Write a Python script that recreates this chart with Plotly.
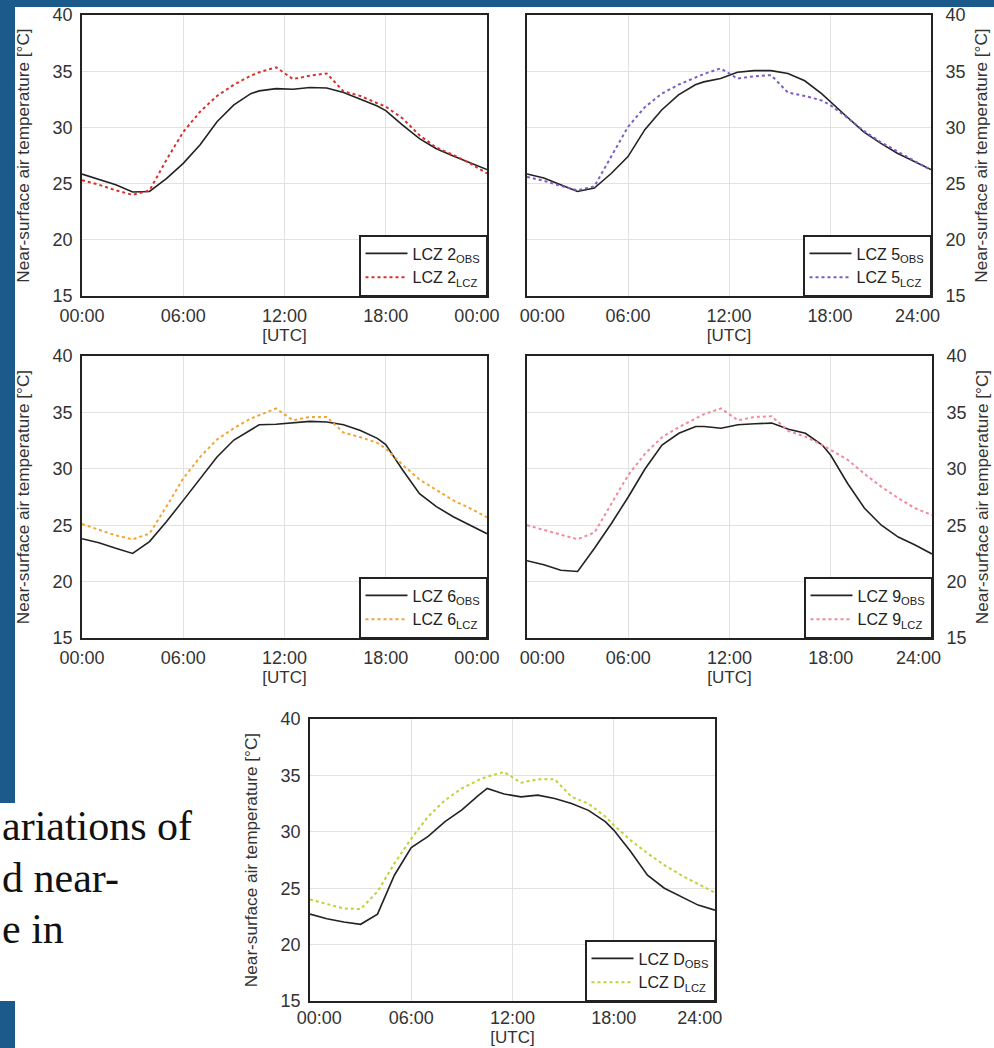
import plotly.graph_objects as go

# ---------------- data ----------------
hours = [0, 1, 2, 3, 4, 5, 6, 7, 8, 9, 10, 10.5, 11.5, 12.5, 13.5, 14.5,
         15.5, 16.5, 17.5, 18, 19, 20, 21, 22, 23, 24]

lcz2_obs = [25.85, 25.4, 24.9, 24.25, 24.3, 25.45, 26.8, 28.45, 30.5, 32.0, 33.0, 33.25, 33.45,
            33.4, 33.55, 33.5, 33.1, 32.5, 31.9, 31.5, 30.2, 29.0, 28.1, 27.45, 26.85, 26.25]
lcz2_lcz = [25.3, 24.9, 24.4, 24.0, 24.4, 27.1, 29.6, 31.4, 32.8, 33.8, 34.6, 34.9, 35.35,
            34.3, 34.6, 34.8, 33.2, 32.8, 32.15, 31.85, 30.8, 29.3, 28.2, 27.55, 26.8, 25.9]
lcz5_obs = [25.85, 25.5, 24.9, 24.3, 24.6, 25.9, 27.4, 29.8, 31.55, 32.9, 33.8, 34.05, 34.35,
            34.9, 35.05, 35.05, 34.8, 34.15, 33.0, 32.3, 30.95, 29.6, 28.6, 27.7, 26.95, 26.25]
lcz5_lcz = [25.6, 25.25, 24.8, 24.4, 24.75, 27.4, 30.05, 31.8, 33.0, 33.8, 34.45, 34.75, 35.25,
            34.35, 34.55, 34.65, 33.1, 32.8, 32.4, 32.0, 30.9, 29.7, 28.7, 27.85, 27.0, 26.2]
lcz6_obs = [23.8, 23.45, 22.95, 22.5, 23.55, 25.3, 27.2, 29.15, 31.05, 32.55, 33.5, 33.9, 33.95,
            34.1, 34.2, 34.15, 33.9, 33.4, 32.7, 32.15, 29.9, 27.8, 26.65, 25.75, 25.0, 24.25]
lcz6_lcz = [25.1, 24.6, 24.1, 23.75, 24.25, 26.65, 29.15, 31.05, 32.6, 33.6, 34.45, 34.75, 35.35,
            34.3, 34.6, 34.6, 33.2, 32.8, 32.3, 31.8, 30.35, 29.05, 28.1, 27.2, 26.5, 25.7]
lcz9_obs = [21.85, 21.5, 21.0, 20.9, 22.95, 25.15, 27.5, 30.0, 32.1, 33.15, 33.75, 33.75, 33.6,
            33.9, 34.0, 34.05, 33.5, 33.15, 32.1, 31.2, 28.7, 26.5, 25.0, 23.95, 23.25, 22.45]
lcz9_lcz = [25.0, 24.6, 24.2, 23.75, 24.35, 26.95, 29.45, 31.35, 32.8, 33.7, 34.45, 34.85, 35.35,
            34.3, 34.6, 34.65, 33.35, 32.85, 32.1, 31.65, 30.8, 29.55, 28.4, 27.4, 26.5, 25.9]
lczD_obs = [22.7, 22.3, 22.0, 21.8, 22.7, 26.15, 28.6, 29.6, 30.9, 31.95, 33.25, 33.85, 33.35,
            33.1, 33.25, 32.95, 32.5, 31.9, 30.9, 30.15, 28.25, 26.15, 25.0, 24.25, 23.5, 23.05]
lczD_lcz = [24.0, 23.6, 23.2, 23.15, 24.7, 27.2, 29.4, 31.35, 32.8, 33.85, 34.6, 34.9, 35.3,
            34.35, 34.65, 34.65, 33.1, 32.5, 31.35, 30.6, 29.25, 28.1, 27.05, 26.15, 25.4, 24.6]

zones = ["2", "5", "6", "9", "D"]
obs_series = [lcz2_obs, lcz5_obs, lcz6_obs, lcz9_obs, lczD_obs]
lcz_series = [lcz2_lcz, lcz5_lcz, lcz6_lcz, lcz9_lcz, lczD_lcz]

ytick_vals = [15, 20, 25, 30, 35, 40]
grid_hours = [6, 12, 18]
xlabels_wrap = ["00:00", "06:00", "12:00", "18:00", "00:00"]
xlabels_24 = ["00:00", "06:00", "12:00", "18:00", "24:00"]
ytitle = "Near-surface air temperature [°C]"
caption_lines = ["ariations of", "d near-", "e in"]

# ---------------- styling / layout ----------------
W, H = 994, 1048
FONT = "Arial, 'Liberation Sans', sans-serif"
TXT = "#333333"
FRAME = "#222222"
GRID = "#e2e2e2"
BLUE = "#1c5a8c"
lcz_colors = ["#d8312b", "#7e5cc4", "#f2a534", "#f28a9c", "#b8d636"]

# plot boxes in pixels: (x_left, x_right, y_top, y_bottom)
boxes = [(82, 487, 15, 296), (527, 931, 15, 296), (82, 487, 356, 638),
         (527, 932, 356, 638), (310, 715, 719, 1001)]
yside = ["left", "right", "left", "right", "left"]
xtext = [xlabels_wrap, xlabels_24, xlabels_wrap, xlabels_24, xlabels_24]
# label anchor positions (hours) - first/last labels sit slightly inside
xlabel_pos = [[0, 6, 12, 18, 23.4], [0.9, 6, 12, 18, 23.2], [0, 6, 12, 18, 23.4],
              [0.9, 6, 12, 18, 23.2], [0.55, 6, 12, 18, 23.1]]
xlabel_standoff = [3, 3, 3, 3, 0]
xtitle_standoff = [1, 1, 1, 1, 2]
# y-title sits a little above the plot centre in panels 1-4 (lead-in padding)
ytitle_pad = [6, 6, 6, 7, 0]
GRID_EPS = 1e-4


def px_x(v):
    return v / W


def px_y(v):
    return 1 - v / H


fig = go.Figure()
layout = dict(
    width=W, height=H,
    margin=dict(l=0, r=0, t=0, b=0),
    paper_bgcolor="white", plot_bgcolor="white",
    font=dict(family=FONT, size=17, color=TXT),
    showlegend=True,
)

for i in range(5):
    n = i + 1
    sfx = "" if n == 1 else str(n)
    xl, xr, yt, yb = boxes[i]
    xdom = [px_x(xl), px_x(xr)]
    ydom = [px_y(yb), px_y(yt)]
    leg = "legend" + sfx
    left = yside[i] == "left"

    fig.add_trace(go.Scatter(
        x=hours, y=obs_series[i], mode="lines",
        name=f"LCZ {zones[i]}<sub>OBS</sub>",
        line=dict(color=FRAME, width=1.6),
        xaxis="x" + sfx, yaxis="y" + sfx, legend=leg, hoverinfo="skip"))
    fig.add_trace(go.Scatter(
        x=hours, y=lcz_series[i], mode="lines",
        name=f"LCZ {zones[i]}<sub>LCZ</sub>",
        line=dict(color=lcz_colors[i], width=2, dash="dot"),
        xaxis="x" + sfx, yaxis="y" + sfx, legend=leg, hoverinfo="skip"))

    layout["xaxis" + sfx] = dict(
        domain=xdom, range=[0, 24], anchor="y" + sfx,
        tickmode="array", tickvals=xlabel_pos[i], ticktext=xtext[i],
        showgrid=False, zeroline=False,
        minor=dict(tickmode="array", tickvals=[g + GRID_EPS for g in grid_hours],
                   showgrid=True, gridcolor=GRID, gridwidth=1, ticks=""),
        showline=True, mirror=True, linecolor=FRAME, linewidth=1.7,
        ticks="", tickfont=dict(size=18, color=TXT),
        ticklabelstandoff=xlabel_standoff[i],
        title=dict(text="[UTC]", font=dict(size=17, color=TXT),
                   standoff=xtitle_standoff[i]),
        automargin=False, fixedrange=True)
    layout["yaxis" + sfx] = dict(
        domain=ydom, range=[15, 40], anchor="x" + sfx, side=yside[i],
        tickmode="array", tickvals=ytick_vals,
        showgrid=True, gridcolor=GRID, gridwidth=1, zeroline=False,
        showline=True, mirror=True, linecolor=FRAME, linewidth=1.7,
        ticks="", tickfont=dict(size=18, color=TXT),
        ticklabelstandoff=4 if left else 9,
        title=dict(text="\u00a0" * ytitle_pad[i] + ytitle,
                   font=dict(size=17.2, color=TXT),
                   standoff=18 if left else 10),
        automargin=False, fixedrange=True)
    layout[leg] = dict(
        x=px_x(xr), xanchor="right", y=px_y(yb), yanchor="bottom",
        xref="paper", yref="paper",
        bgcolor="white", bordercolor=FRAME, borderwidth=1.5,
        font=dict(size=16, color="#222222", family=FONT),
        tracegroupgap=0, itemwidth=42, traceorder="normal")

# slide background pieces (blue frame)
layout["shapes"] = [
    dict(type="rect", xref="paper", yref="paper", x0=0, x1=1, y0=px_y(7), y1=1,
         fillcolor=BLUE, line=dict(width=0), layer="below"),
    dict(type="rect", xref="paper", yref="paper", x0=0, x1=px_x(15), y0=px_y(803), y1=1,
         fillcolor=BLUE, line=dict(width=0), layer="below"),
    dict(type="rect", xref="paper", yref="paper", x0=0, x1=px_x(15), y0=0, y1=px_y(1001),
         fillcolor=BLUE, line=dict(width=0), layer="below"),
]

# slide caption text
caption_y = [826, 878, 929]
layout["annotations"] = [
    dict(text=t, xref="paper", yref="paper", x=px_x(0), y=px_y(yc),
         xanchor="left", yanchor="middle", showarrow=False,
         font=dict(family="'Liberation Serif', 'Times New Roman', serif", size=42, color="#111111"))
    for t, yc in zip(caption_lines, caption_y)
]

fig.update_layout(**layout)
fig.write_html("out.html", config={"displayModeBar": False},
               post_script="document.body.style.margin='0';")
